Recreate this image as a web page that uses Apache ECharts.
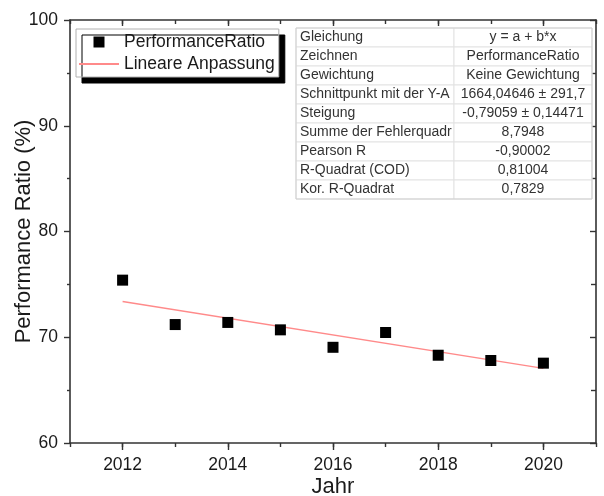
<!DOCTYPE html>
<html>
<head>
<meta charset="utf-8">
<script src="https://cdn.jsdelivr.net/npm/echarts@6/dist/echarts.min.js"></script>
<style>
html,body{margin:0;padding:0;background:#fff;}
#chart{width:604px;height:496px;}
</style>
</head>
<body>
<div id="chart"></div>
<script>
// ---- data ----
const years = [2012, 2013, 2014, 2015, 2016, 2017, 2018, 2019, 2020];
const performanceRatio = [75.4, 71.2, 71.4, 70.7, 69.05, 70.45, 68.3, 67.8, 67.55];
const xMajorTicks = [2012, 2014, 2016, 2018, 2020];
const yTicks = [60, 70, 80, 90, 100];
const fitIntercept = 1664.04646;
const fitSlope = -0.79059;
const tableLabels = ['Gleichung', 'Zeichnen', 'Gewichtung', 'Schnittpunkt mit der Y-A', 'Steigung',
  'Summe der Fehlerquadr', 'Pearson R', 'R-Quadrat (COD)', 'Kor. R-Quadrat'];
const tableValues = ['y = a + b*x', 'PerformanceRatio', 'Keine Gewichtung', '1664,04646 \u00b1 291,7',
  '-0,79059 \u00b1 0,14471', '8,7948', '-0,90002', '0,81004', '0,7829'];
const legendNames = ['PerformanceRatio', 'Lineare Anpassung'];

// ---- build ----
const FONT = '"Liberation Sans", Arial, Helvetica, sans-serif';
const scatterData = years.map((y, i) => [y, performanceRatio[i]]);
const fitData = [years[0], years[years.length - 1]].map(y => [y, fitIntercept + fitSlope * y]);

const tblLeft = 296, tblTop = 28, col1W = 158, col2W = 138, rowH = 19;
const tableEls = [];
tableLabels.forEach((lab, i) => {
  const y = tblTop + i * rowH;
  tableEls.push({ type: 'rect', shape: { x: tblLeft, y: y, width: col1W, height: rowH },
    style: { fill: '#fff', stroke: '#e3e3e3', lineWidth: 1 }, z: 100 });
  tableEls.push({ type: 'rect', shape: { x: tblLeft + col1W, y: y, width: col2W, height: rowH },
    style: { fill: '#fff', stroke: '#e3e3e3', lineWidth: 1 }, z: 100 });
  tableEls.push({ type: 'text', x: tblLeft + 4, y: y + rowH / 2, z: 101,
    style: { text: lab, font: '14px ' + FONT, fill: '#333', verticalAlign: 'middle', align: 'left' } });
  tableEls.push({ type: 'text', x: tblLeft + col1W + col2W / 2, y: y + rowH / 2, z: 101,
    style: { text: tableValues[i], font: '14px ' + FONT, fill: '#333', verticalAlign: 'middle', align: 'center' } });
});
tableEls.push({ type: 'rect', shape: { x: tblLeft, y: tblTop, width: col1W + col2W, height: rowH * tableLabels.length },
  style: { fill: 'none', stroke: '#cfcfcf', lineWidth: 1 }, z: 102 });

const axisLineStyle = { color: '#333', width: 1.6 };
const tickStyle = { color: '#333', width: 1.4 };
const chart = echarts.init(document.getElementById('chart'));
chart.setOption({
  animation: false,
  backgroundColor: '#fff',
  textStyle: { fontFamily: FONT },
  grid: { left: 70, right: 8, top: 20, bottom: 53, containLabel: false, outerBoundsMode: 'none' },
  legend: {
    data: [
      { name: legendNames[0], icon: 'path://M0,0M40,11M14.5,0L25.5,0L25.5,11L14.5,11Z' },
      { name: legendNames[1], itemStyle: { color: 'rgba(0,0,0,0)', borderWidth: 0 } }
    ],
    orient: 'vertical', left: 76, top: 29,
    itemWidth: 40, itemHeight: 11, itemGap: 4,
    padding: [4, 4, 4, 2],
    backgroundColor: '#fff', borderColor: '#b0b0b0', borderWidth: 1,
    shadowColor: '#000', shadowBlur: 0, shadowOffsetX: 6, shadowOffsetY: 6,
    textStyle: { fontSize: 17.5, lineHeight: 17, color: '#1a1a1a', fontFamily: FONT }
  },
  xAxis: [
    { type: 'value', position: 'bottom', min: 2011, max: 2021, interval: 1,
      name: 'Jahr', nameLocation: 'middle', nameGap: 33, nameMoveOverlap: false,
      nameTextStyle: { fontSize: 22, color: '#1a1a1a' },
      axisLine: { show: true, lineStyle: axisLineStyle },
      axisTick: { show: true, length: 4, lineStyle: tickStyle },
      axisLabel: { customValues: xMajorTicks, formatter: v => String(v), fontSize: 17.5, color: '#1a1a1a', margin: 13 },
      splitLine: { show: false } },
    { type: 'value', position: 'bottom', min: 2011, max: 2021,
      axisLine: { show: false },
      axisTick: { show: true, customValues: xMajorTicks, length: 7, lineStyle: tickStyle },
      axisLabel: { show: false }, splitLine: { show: false } },
    { type: 'value', position: 'top', min: 2011, max: 2021, interval: 1,
      axisLine: { show: true, lineStyle: axisLineStyle },
      axisTick: { show: true, inside: true, length: 4, lineStyle: tickStyle },
      axisLabel: { show: false }, splitLine: { show: false } },
    { type: 'value', position: 'top', min: 2011, max: 2021,
      axisLine: { show: false },
      axisTick: { show: true, inside: true, customValues: xMajorTicks, length: 6, lineStyle: tickStyle },
      axisLabel: { show: false }, splitLine: { show: false } }
  ],
  yAxis: [
    { type: 'value', position: 'left', min: yTicks[0], max: yTicks[yTicks.length - 1], interval: 10,
      name: 'Performance Ratio (%)', nameLocation: 'middle', nameGap: 35, nameMoveOverlap: false,
      nameTextStyle: { fontSize: 22, color: '#1a1a1a' },
      axisLine: { show: true, lineStyle: axisLineStyle },
      axisTick: { show: true, length: 6, lineStyle: tickStyle },
      minorTick: { show: true, splitNumber: 2, length: 3, lineStyle: tickStyle },
      axisLabel: { fontSize: 17.5, color: '#1a1a1a', margin: 12 },
      splitLine: { show: false } },
    { type: 'value', position: 'right', min: yTicks[0], max: yTicks[yTicks.length - 1], interval: 10,
      axisLine: { show: true, lineStyle: axisLineStyle },
      axisTick: { show: true, inside: true, length: 6, lineStyle: tickStyle },
      minorTick: { show: true, splitNumber: 2, length: 5, lineStyle: tickStyle },
      axisLabel: { show: false }, splitLine: { show: false } }
  ],
  series: [
    { name: legendNames[0], type: 'scatter', data: scatterData, symbol: 'rect', symbolSize: 11,
      itemStyle: { color: '#000', opacity: 1 }, z: 5 },
    { name: legendNames[1], type: 'line', data: fitData, showSymbol: false, symbol: 'none',
      lineStyle: { color: '#ff8a8a', width: 1.3 }, itemStyle: { color: '#ff8a8a' }, z: 4 }
  ],
  graphic: tableEls
});
</script>
</body>
</html>
